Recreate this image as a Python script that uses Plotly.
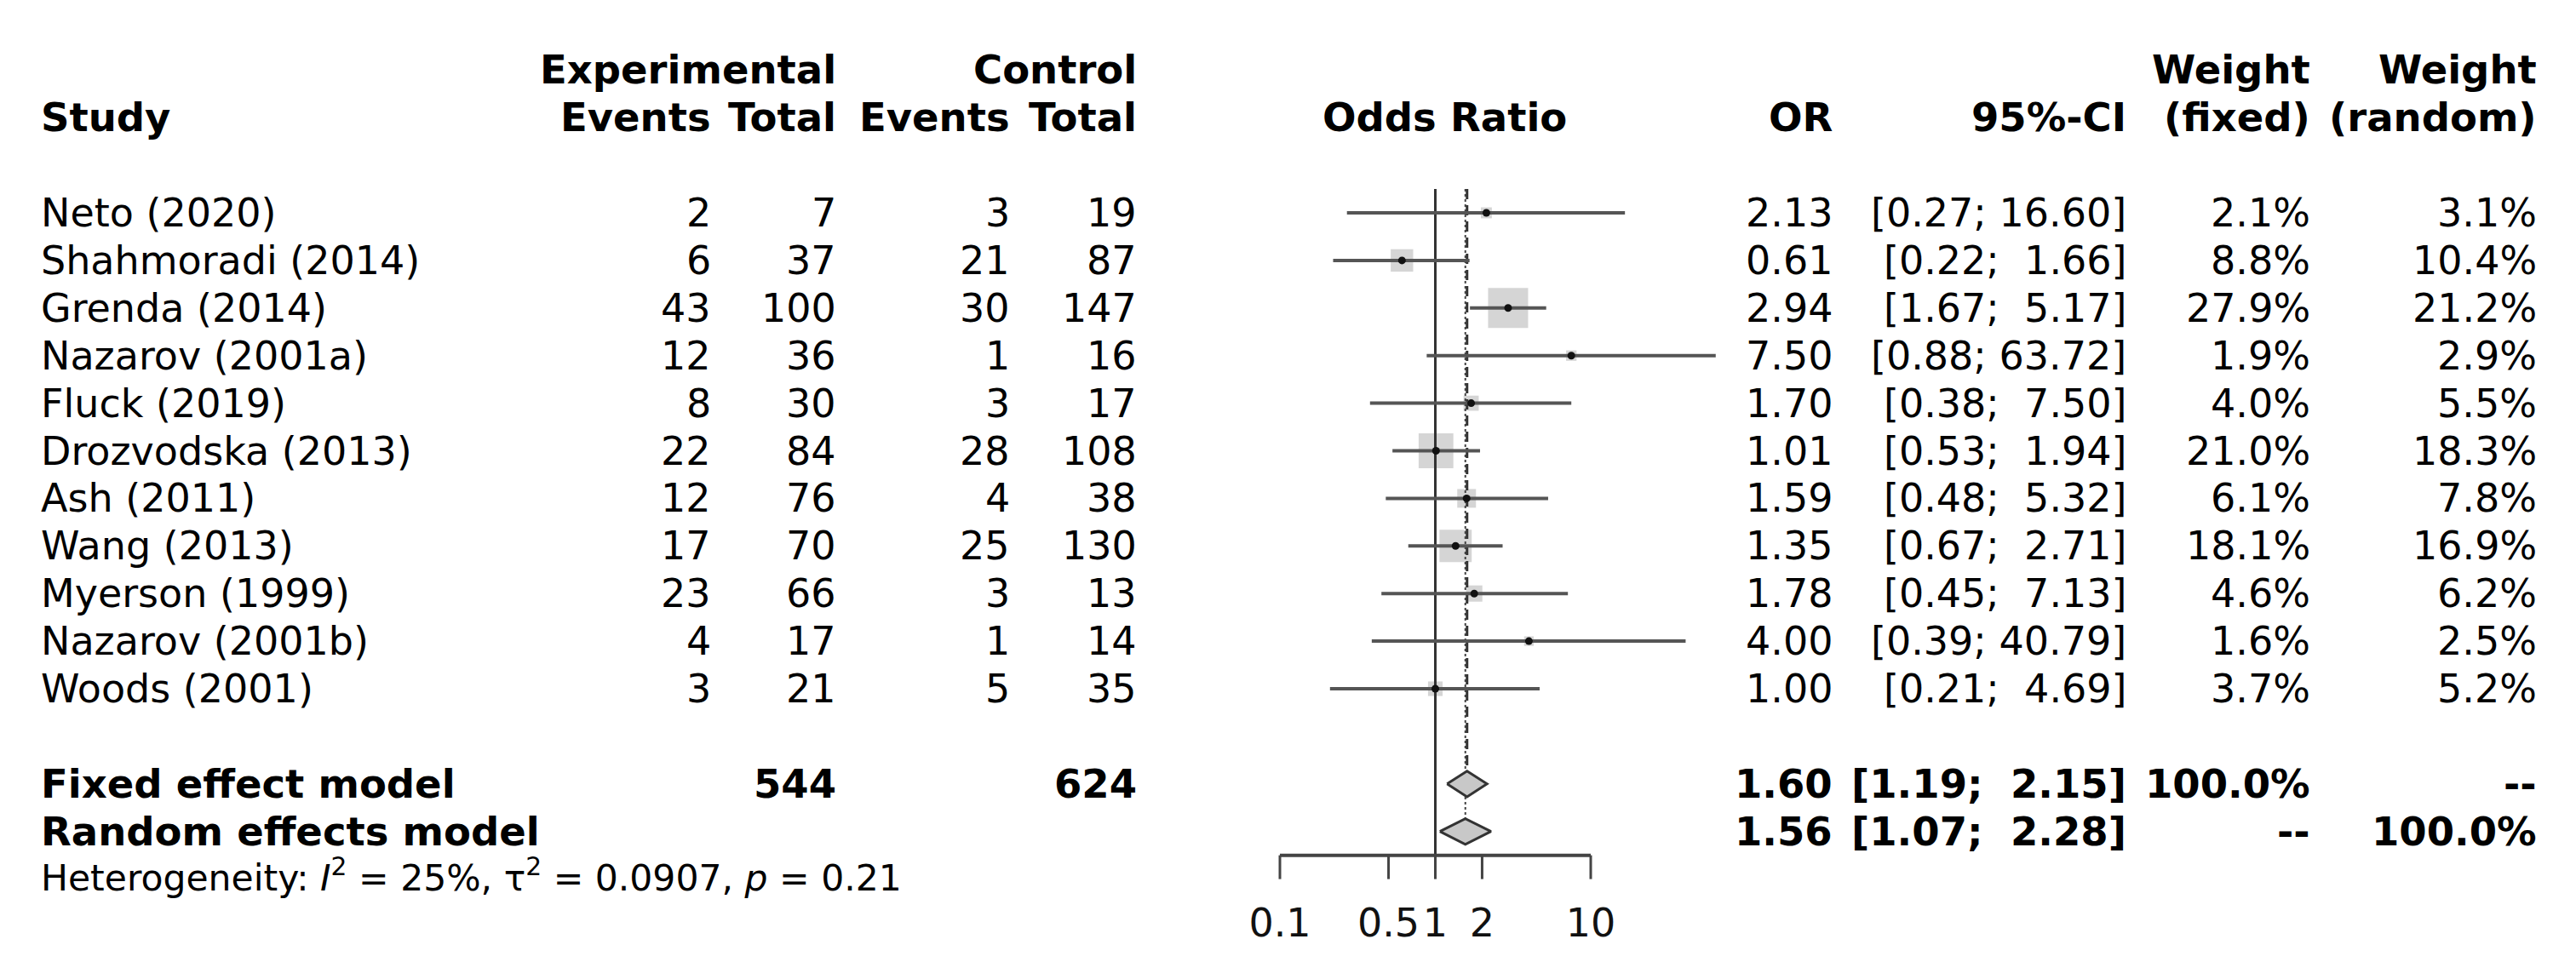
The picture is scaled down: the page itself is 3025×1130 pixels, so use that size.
import numpy as np
import plotly.graph_objects as go

# ---------------- data ----------------
studies = ["Neto (2020)", "Shahmoradi (2014)", "Grenda (2014)", "Nazarov (2001a)",
           "Fluck (2019)", "Drozvodska (2013)", "Ash (2011)", "Wang (2013)",
           "Myerson (1999)", "Nazarov (2001b)", "Woods (2001)"]
exp_events = [2, 6, 43, 12, 8, 22, 12, 17, 23, 4, 3]
exp_total = [7, 37, 100, 36, 30, 84, 76, 70, 66, 17, 21]
ctrl_events = [3, 21, 30, 1, 3, 28, 4, 25, 3, 1, 5]
ctrl_total = [19, 87, 147, 16, 17, 108, 38, 130, 13, 14, 35]
odds_ratio = [2.13, 0.61, 2.94, 7.50, 1.70, 1.01, 1.59, 1.35, 1.78, 4.00, 1.00]
ci_lower = [0.27, 0.22, 1.67, 0.88, 0.38, 0.53, 0.48, 0.67, 0.45, 0.39, 0.21]
ci_upper = [16.60, 1.66, 5.17, 63.72, 7.50, 1.94, 5.32, 2.71, 7.13, 40.79, 4.69]
weight_fixed = [2.1, 8.8, 27.9, 1.9, 4.0, 21.0, 6.1, 18.1, 4.6, 1.6, 3.7]
weight_random = [3.1, 10.4, 21.2, 2.9, 5.5, 18.3, 7.8, 16.9, 6.2, 2.5, 5.2]

model_names = ["Fixed effect model", "Random effects model"]
model_or = [1.60, 1.56]
model_lower = [1.19, 1.07]
model_upper = [2.15, 2.28]
model_w_fixed = ["100.0%", "--"]
model_w_random = ["--", "100.0%"]
model_exp_total = ["544", ""]
model_ctrl_total = ["624", ""]
heterogeneity = ("Heterogeneity: <i>I</i><sup>2</sup> = 25%, \u03c4<sup>2</sup> = 0.0907, "
                 "<i>p</i> = 0.21")
tick_vals = [0.1, 0.5, 1, 2, 10]
tick_text = ["0.1", "0.5", "1", "2", "10"]

# ---------------- layout constants (pixels) ----------------
W, H = 3025, 1130
ROW0, ROWH = 242.0, 55.9          # y pixel of first row, row pitch
X1, DEC = 1677.5, 182.5           # x pixel of OR=1, pixels per decade
FL, FR = 1400.0, 2080.0           # forest sub-plot horizontal extent
FONT = "DejaVu Sans"
FS = 46
FSB = 46.5
FSH = 42.5

COL_STUDY = 39
COL_EXP_EV, COL_EXP_TOT = 828, 975
COL_CTRL_EV, COL_CTRL_TOT = 1179, 1328
COL_ODDS = 1688
COL_OR, COL_CI, COL_WF, COL_WR = 2145, 2490, 2706, 2972

n = len(studies)
rows = list(range(n))
model_rows = [n + 1, n + 2]
het_row = n + 2.92
axis_row = model_rows[1] + 0.5
tick_end_row = axis_row + 0.5
tick_lab_row = axis_row + 1.5
top_row = -0.5
dia_h = 0.27

fig = go.Figure()

# squares (area proportional to fixed weight)
wmax = max(weight_fixed)
sizes = [47 * np.sqrt(w / wmax) for w in weight_fixed]
fig.add_trace(go.Scatter(x=odds_ratio, y=rows, mode="markers",
                         marker=dict(symbol="square", size=sizes, color="#c3c3c3",
                                     line=dict(width=0)),
                         hoverinfo="skip", showlegend=False))

# reference line at OR = 1
fig.add_trace(go.Scatter(x=[1, 1], y=[top_row, axis_row], mode="lines",
                         line=dict(color="#333333", width=3),
                         hoverinfo="skip", showlegend=False))
# fixed / random effect lines
fig.add_trace(go.Scatter(x=[model_or[1], model_or[1]], y=[top_row, model_rows[1] - dia_h],
                         mode="lines", line=dict(color="#444444", width=2, dash="dot"),
                         hoverinfo="skip", showlegend=False))
fig.add_trace(go.Scatter(x=[model_or[0], model_or[0]], y=[top_row, model_rows[0] - dia_h],
                         mode="lines", line=dict(color="#333333", width=3, dash="12px,7px"),
                         hoverinfo="skip", showlegend=False))

# confidence interval lines
cx, cy = [], []
for i in range(n):
    cx += [ci_lower[i], ci_upper[i], None]
    cy += [rows[i], rows[i], None]
fig.add_trace(go.Scatter(x=cx, y=cy, mode="lines",
                         line=dict(color="#555555", width=4),
                         hoverinfo="skip", showlegend=False))

# point estimate dots
fig.add_trace(go.Scatter(x=odds_ratio, y=rows, mode="markers",
                         marker=dict(symbol="circle", size=9, color="#111111"),
                         hoverinfo="skip", showlegend=False))

# diamonds
for k in range(2):
    r = model_rows[k]
    fig.add_trace(go.Scatter(
        x=[model_lower[k], model_or[k], model_upper[k], model_or[k], model_lower[k]],
        y=[r, r - dia_h, r, r + dia_h, r], mode="lines", fill="toself",
        fillcolor="#c8c8c8", line=dict(color="#333333", width=3),
        hoverinfo="skip", showlegend=False))

# x axis (drawn)
fig.add_trace(go.Scatter(x=[tick_vals[0], tick_vals[-1]], y=[axis_row, axis_row],
                         mode="lines", line=dict(color="#444444", width=4),
                         hoverinfo="skip", showlegend=False))
tx, ty = [], []
for v in tick_vals:
    tx += [v, v, None]
    ty += [axis_row, tick_end_row, None]
fig.add_trace(go.Scatter(x=tx, y=ty, mode="lines", line=dict(color="#444444", width=3),
                         hoverinfo="skip", showlegend=False))
fig.add_trace(go.Scatter(x=tick_vals, y=[tick_lab_row] * len(tick_vals), mode="text",
                         text=tick_text, textposition="middle center",
                         textfont=dict(family=FONT, size=FS, color="#111111"),
                         hoverinfo="skip", showlegend=False))

# ---------------- text table ----------------
ann = []


def txt(xpx, row, s, anchor="right", bold=False, size=None):
    if size is None:
        size = FSB if bold else FS
    if bold:
        s = "<b>" + s + "</b>"
    ann.append(dict(x=xpx / W, y=row, xref="paper", yref="y", text=s, showarrow=False,
                    xanchor=anchor, yanchor="middle", borderpad=0,
                    font=dict(family=FONT, size=size, color="#000000")))


# headers
txt(COL_EXP_TOT, -3, "Experimental", bold=True)
txt(COL_CTRL_TOT, -3, "Control", bold=True)
txt(COL_WF, -3, "Weight", bold=True)
txt(COL_WR, -3, "Weight", bold=True)
txt(COL_STUDY, -2, "Study", anchor="left", bold=True)
txt(COL_EXP_EV, -2, "Events", bold=True)
txt(COL_EXP_TOT, -2, "Total", bold=True)
txt(COL_CTRL_EV, -2, "Events", bold=True)
txt(COL_CTRL_TOT, -2, "Total", bold=True)
txt(COL_ODDS, -2, "Odds Ratio", anchor="center", bold=True)
txt(COL_OR, -2, "OR", bold=True)
txt(COL_CI, -2, "95%-CI", bold=True)
txt(COL_WF, -2, "(fixed)", bold=True)
txt(COL_WR, -2, "(random)", bold=True)


def ci_str(lo, hi):
    return f"[{lo:.2f}; {hi:5.2f}]".replace(" ", "\u00a0")


for i in range(n):
    r = rows[i]
    txt(COL_STUDY, r, studies[i], anchor="left")
    txt(COL_EXP_EV, r, str(exp_events[i]))
    txt(COL_EXP_TOT, r, str(exp_total[i]))
    txt(COL_CTRL_EV, r, str(ctrl_events[i]))
    txt(COL_CTRL_TOT, r, str(ctrl_total[i]))
    txt(COL_OR, r, f"{odds_ratio[i]:.2f}")
    txt(COL_CI, r, ci_str(ci_lower[i], ci_upper[i]))
    txt(COL_WF, r, f"{weight_fixed[i]:.1f}%")
    txt(COL_WR, r, f"{weight_random[i]:.1f}%")

for k in range(2):
    r = model_rows[k]
    txt(COL_STUDY, r, model_names[k], anchor="left", bold=True)
    if model_exp_total[k]:
        txt(COL_EXP_TOT, r, model_exp_total[k], bold=True)
    if model_ctrl_total[k]:
        txt(COL_CTRL_TOT, r, model_ctrl_total[k], bold=True)
    txt(COL_OR, r, f"{model_or[k]:.2f}", bold=True)
    txt(COL_CI, r, ci_str(model_lower[k], model_upper[k]), bold=True)
    txt(COL_WF, r, model_w_fixed[k], bold=True)
    txt(COL_WR, r, model_w_random[k], bold=True)

txt(COL_STUDY, het_row, heterogeneity, anchor="left", size=FSH)

fig.update_layout(
    width=W, height=H,
    margin=dict(l=0, r=0, t=0, b=0),
    paper_bgcolor="white", plot_bgcolor="white",
    showlegend=False,
    annotations=ann,
    xaxis=dict(type="log", domain=[FL / W, FR / W],
               range=[(FL - X1) / DEC, (FR - X1) / DEC],
               visible=False, fixedrange=True),
    yaxis=dict(domain=[0, 1], range=[(H - ROW0) / ROWH, -ROW0 / ROWH],
               visible=False, fixedrange=True),
)

fig.write_html("out.html")
